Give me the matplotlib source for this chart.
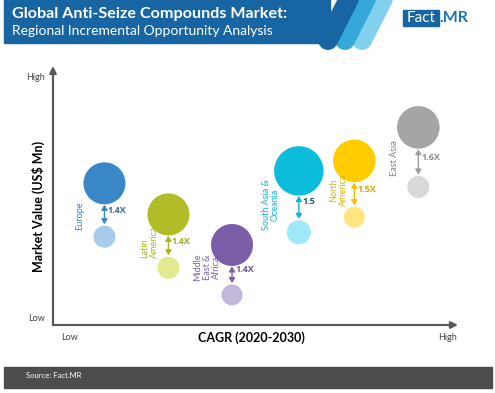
"""Global Anti-Seize Compounds Market: regional incremental opportunity bubble chart."""
import matplotlib

matplotlib.use("Agg")
import matplotlib.pyplot as plt
from matplotlib.patches import Rectangle

W, H = 495, 393
DPI = 100

# relative position on the CAGR axis (0 = low, 100 = high)
regions = ["Europe", "Latin\nAmerica", "Middle\nEast &\nAfrica",
           "South Asia &\nOceania", "North\nAmerica", "East Asia"]
cagr_pos = [12.7, 28.5, 44.2, 60.7, 74.4, 90.2]
# relative market value (0 = low, 100 = high)
value_2030 = [54.7, 42.7, 30.9, 59.5, 63.4, 76.3]
value_2020 = [34.1, 22.1, 11.6, 35.8, 41.6, 53.3]
# relative bubble size
size_2030 = [21, 21, 21, 24.7, 21.3, 21.3]
size_2020 = [11, 11, 10.5, 12, 10.5, 11]
multipliers = ["1.4X", "1.4X", "1.4X", "1.5", "1.5X", "1.6X"]

# styles
big_colors = ["#3a87c8", "#b0bd27", "#7a5fa8", "#0bbcdb", "#ffcc00", "#a5a5a5"]
small_colors = ["#a9cbea", "#e2e98e", "#c3b8da", "#9ceaf8", "#ffe680", "#d9d9d9"]
name_colors = ["#3b80c3", "#a9b52b", "#7c62a9", "#14b5d3", "#e0b400", "#808080"]
mult_colors = ["#2f6fa8", "#a2ae22", "#6d55a0", "#1a5c6b", "#d4a800", "#8c8c8c"]
arrow_colors = ["#3a87c8", "#a9b52b", "#7a5fa8", "#0fb5d5", "#f2c200", "#a0a0a0"]
# label offsets (pixels) from the arrow midpoint, and text anchor
name_offsets = [(-25, 6), (-19, 17), (-25, -3), (-28, 3), (-16, 1), (-24, 1)]
name_va = ["center", "bottom", "center", "center", "center", "center"]
name_malign = ["center", "left", "center", "center", "center", "center"]
name_z = [2, 2, 2, 2, 6, 2]

GREY = "#595959"
plt.rcParams["font.family"] = ["Lato", "DejaVu Sans"]


def fx(x):
    return x / W


def fy(y):
    return 1 - y / H


def px2pt(v):
    return v * 72 / DPI


fig = plt.figure(figsize=(W / DPI, H / DPI), dpi=DPI)

# header banner
fig.patches.append(Rectangle((fx(4), fy(43)), fx(330) - fx(4), fy(0) - fy(43),
                             transform=fig.transFigure, color="#1766a3", zorder=0))
for dx, col in [(34, "#80d0ee"), (17, "#35a8d8"), (0, "#1766a3")]:
    fig.add_artist(plt.Line2D([fx(356 + dx), fx(328 + dx)], [fy(-15), fy(40)],
                              transform=fig.transFigure, color=col,
                              lw=px2pt(20), solid_capstyle="round", zorder=1))
fig.text(fx(12), fy(18.3), "Global Anti-Seize Compounds Market:", color="white",
         fontsize=11.6, fontweight="bold", va="baseline", ha="left", zorder=3)
fig.text(fx(12), fy(35), "Regional Incremental Opportunity Analysis", color="white",
         fontsize=10, va="baseline", ha="left", zorder=3)

# logo
fig.patches.append(Rectangle((fx(403), fy(25.5)), fx(439) - fx(403), fy(10) - fy(25.5),
                             transform=fig.transFigure, color="#1766a3", zorder=0))
fig.text(fx(421), fy(18), "Fact", color="white", fontsize=11, va="center", ha="center")
fig.text(fx(439.5), fy(18), ".MR", color="#1b73b8", fontsize=11.5, fontweight="bold",
         va="center", ha="left")

# footer
fig.patches.append(Rectangle((fx(4), fy(388)), fx(492) - fx(4), fy(367) - fy(388),
                             transform=fig.transFigure, color="#4d4d4d", zorder=0))
fig.text(fx(26), fy(375), "Source: Fact.MR", color="white", fontsize=5.5,
         va="center", ha="left")

# plot area
ax = fig.add_axes([fx(53), fy(325), fx(458) - fx(53), fy(66) - fy(325)])
ax.set_xlim(0, 100)
ax.set_ylim(0, 100)
for s in ax.spines.values():
    s.set_visible(False)
ax.patch.set_alpha(0)
arrow_axis = dict(arrowstyle="-|>,head_length=0.5,head_width=0.25", color=GREY,
                  lw=1.6, shrinkA=0, shrinkB=0, mutation_scale=8)
ax.annotate("", xy=(0, 1), xytext=(0, 0), xycoords="axes fraction",
            arrowprops=arrow_axis)
ax.annotate("", xy=(1, 0), xytext=(0, 0), xycoords="axes fraction",
            arrowprops=arrow_axis)

ax.set_xticks([4, 97.5], ["Low", "High"])
ax.set_yticks([3, 95.8], ["Low", "High"])
ax.tick_params(length=0, labelsize=6.5, labelcolor="#404040")
ax.tick_params(axis="x", pad=6)
ax.tick_params(axis="y", pad=6)

fig.text(fx(38), fy(206.7), "Market Value (US$ Mn)", rotation=90, fontsize=9,
         fontweight="bold", ha="center", va="center", color="black")
fig.text(fx(251.5), fy(337.5), "CAGR (2020-2030)", fontsize=9,
         fontweight="bold", ha="center", va="center", color="black")

ax.scatter(cagr_pos, value_2030, s=[(2 * px2pt(r)) ** 2 for r in size_2030],
           c=big_colors, linewidths=0, zorder=3, clip_on=False)
ax.scatter(cagr_pos, value_2020, s=[(2 * px2pt(r)) ** 2 for r in size_2020],
           c=small_colors, linewidths=0, zorder=3, clip_on=False)

for i, name in enumerate(regions):
    x = cagr_pos[i]
    mid = (value_2030[i] + value_2020[i]) / 2
    ax.annotate("", xy=(x, value_2020[i]), xytext=(x, value_2030[i]),
                arrowprops=dict(arrowstyle="<|-|>,head_length=0.3,head_width=0.18",
                                color=arrow_colors[i], lw=1.0, mutation_scale=10,
                                shrinkA=px2pt(size_2030[i]) + 0.3,
                                shrinkB=px2pt(size_2020[i]) + 1),
                zorder=4)
    ax.annotate(multipliers[i], xy=(x, mid), xytext=(px2pt(3.5), 0),
                textcoords="offset points", color=mult_colors[i], fontsize=6.5,
                fontweight="bold", ha="left", va="center", zorder=5,
                family=["Open Sans", "DejaVu Sans"])
    ox, oy = name_offsets[i]
    ax.annotate(name, xy=(x, mid), xytext=(px2pt(ox), -px2pt(oy)),
                textcoords="offset points", color=name_colors[i], fontsize=6.5,
                rotation=90, ha="center", va=name_va[i],
                multialignment=name_malign[i], linespacing=1.05, zorder=name_z[i])

fig.savefig("out.png", dpi=DPI)
